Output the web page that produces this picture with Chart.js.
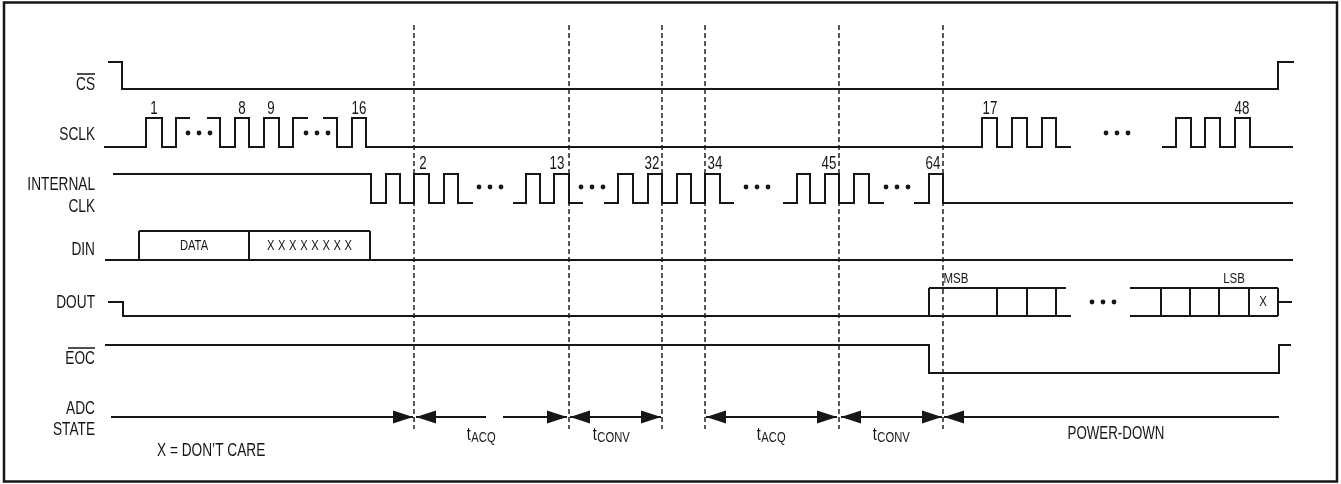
<!DOCTYPE html>
<html>
<head>
<meta charset="utf-8">
<script src="https://cdn.jsdelivr.net/npm/chart.js@4/dist/chart.umd.min.js"></script>
<style>
  html, body { margin: 0; padding: 0; background: #fff; }
  canvas { display: block; }
</style>
</head>
<body>
<canvas id="timing" width="1341" height="484"></canvas>
<script>
// Waveforms as [time, level] steps. level 1 = high, 0 = low, 0.5 = mid. null = "..." break
const csWave = [[108, 1], [122, 0], [1278, 1], [1294, 1]];
const sclkWave = [[104, 0], [146, 1], [162, 0], [176, 1], [190, 1], null,
  [207, 1], [220, 0], [235, 1], [249, 0], [264, 1], [279, 0], [293, 1], [308, 1], null,
  [323, 1], [337, 0], [352, 1], [366, 0], [982, 1], [997, 0], [1012, 1], [1027, 0], [1042, 1], [1056, 0], [1071, 0], null,
  [1162, 0], [1176, 1], [1191, 0], [1205, 1], [1220, 0], [1235, 1], [1250, 0], [1293, 0]];
const intClkWave = [[113, 1], [371, 0], [386, 1], [400, 0], [414, 1], [429, 0], [444, 1], [458, 0], [473, 0], null,
  [513, 0], [526, 1], [540, 0], [554, 1], [569, 0], [583, 0], null,
  [604, 0], [618, 1], [633, 0], [648, 1], [662, 0], [677, 1], [691, 0], [705, 1], [720, 0], [734, 0], null,
  [783, 0], [797, 1], [810, 0], [825, 1], [839, 0], [854, 1], [869, 0], [884, 0], null,
  [914, 0], [929, 1], [943, 0], [1293, 0]];
const doutWave = [[108, 0.5], [123, 0], [1071, 0]];
const eocWave = [[105, 1], [929, 0], [1279, 1], [1291, 1]];

// DIN bus: low line span and cell edges with their contents
const dinSpan = [105, 1293];
const dinCells = [139, 249, 370];
const dinText = ['DATA', 'XXXXXXXX'];

// DOUT bus: first group (open on the right), second group (open on the left)
const doutCells1 = [929, 997, 1027, 1056];
const doutOpen1 = [1066, 1071];           // top end, bottom end
const doutCells2 = [1130, 1161, 1190, 1219, 1249, 1278];
const doutTail = 1292;
const doutText = [['MSB', 956], ['LSB', 1234], ['X', 1263]];

// clock numbers [text, time]
const sclkNumbers = [['1', 154], ['8', 242], ['9', 271], ['16', 359], ['17', 990], ['48', 1242]];
const intClkNumbers = [['2', 423], ['13', 557], ['32', 652], ['34', 715], ['45', 829], ['64', 933]];

// centres of the "• • •" groups
const sclkDots = [199, 317, 1117];
const intClkDots = [490, 592, 757, 897];
const doutDots = [1103];

// dashed event markers
const eventTimes = [414, 569, 662, 705, 839, 943];

// ADC state phases
const adcPhases = [
  { from: 111, to: 413, heads: [false, true], t: '', sub: '', at: 0 },
  { from: 416, to: 567, heads: [true, true], t: 't', sub: 'ACQ', at: 481, gap: [486, 503] },
  { from: 570, to: 661, heads: [true, true], t: 't', sub: 'CONV', at: 611 },
  { from: 706, to: 837, heads: [true, true], t: 't', sub: 'ACQ', at: 771 },
  { from: 841, to: 942, heads: [true, true], t: 't', sub: 'CONV', at: 891 },
  { from: 944, to: 1279, heads: [true, false], t: 'POWER-DOWN', sub: '', at: 1116 }
];

// layout (pixel rows on the y scale)
const rows = {
  cs: { high: 62, low: 89 },
  sclk: { high: 118, low: 147 },
  intclk: { high: 174, low: 203 },
  din: { high: 231, low: 260 },
  dout: { high: 288, low: 316 },
  eoc: { high: 345, low: 373 },
  adc: 417
};
const INK = '#161616';
const FONT = '"Liberation Sans", Arial, sans-serif';

function levelY(row, lvl) {
  return row.low - lvl * (row.low - row.high);
}

function wavePoints(wave, row) {
  let pts = [];
  let lastX = 0;
  wave.forEach(p => {
    if (p === null) {
      pts.push({ x: lastX, y: null });
    } else {
      pts.push({ x: p[0], y: levelY(row, p[1]) });
      lastX = p[0];
    }
  });
  return pts;
}

// polyline helpers for bus boxes
function hline(pts, x1, x2, y) { pts.push({ x: x1, y: y }, { x: x2, y: y }, { x: x2, y: null }); }
function vline(pts, x, y1, y2) { pts.push({ x: x, y: y1 }, { x: x, y: y2 }, { x: x, y: null }); }

let dinPts = [];
hline(dinPts, dinSpan[0], dinSpan[1], rows.din.low);
hline(dinPts, dinCells[0], dinCells[dinCells.length - 1], rows.din.high);
dinCells.forEach(x => vline(dinPts, x, rows.din.low, rows.din.high));

let doutPts = [];
hline(doutPts, doutCells1[0], doutOpen1[0], rows.dout.high);
doutCells1.forEach(x => vline(doutPts, x, rows.dout.low, rows.dout.high));
hline(doutPts, doutCells2[0], doutCells2[doutCells2.length - 1], rows.dout.high);
hline(doutPts, doutCells2[0], doutCells2[doutCells2.length - 1], rows.dout.low);
doutCells2.slice(1).forEach(x => vline(doutPts, x, rows.dout.low, rows.dout.high));
hline(doutPts, doutCells2[doutCells2.length - 1], doutTail, levelY(rows.dout, 0.5));
// the bottom of the first group is the low line of doutWave

let markerPts = [];
eventTimes.forEach(t => vline(markerPts, t, 25, 429));

let adcPts = [];
adcPhases.forEach(ph => {
  if (ph.gap) {
    hline(adcPts, ph.from, ph.gap[0], rows.adc);
    hline(adcPts, ph.gap[1], ph.to, rows.adc);
  } else {
    hline(adcPts, ph.from, ph.to, rows.adc);
  }
});

function waveSet(wave, row) {
  return { data: wavePoints(wave, row), stepped: 'before' };
}

function drawText(ctx, s, x, y, size, align, sx) {
  ctx.save();
  ctx.font = size + 'px ' + FONT;
  ctx.textBaseline = 'middle';
  ctx.textAlign = align;
  ctx.translate(x, y);
  ctx.scale(sx || 0.76, 1);
  ctx.fillText(s, 0, 0);
  ctx.restore();
}

const decor = {
  id: 'decor',
  afterDatasetsDraw(chart) {
    const ctx = chart.ctx;
    const xs = chart.scales.x, ys = chart.scales.y;
    const px = v => xs.getPixelForValue(v);
    const py = v => ys.getPixelForValue(v);
    ctx.save();
    ctx.fillStyle = INK;
    ctx.strokeStyle = INK;

    // frame
    ctx.lineWidth = 2.5;
    ctx.strokeRect(4, 2.5, 1333, 479);

    // signal names
    drawText(ctx, 'CS', 95, 85, 18, 'right');
    drawText(ctx, 'SCLK', 95, 135, 18, 'right');
    drawText(ctx, 'INTERNAL', 95, 185, 18, 'right');
    drawText(ctx, 'CLK', 95, 207, 18, 'right');
    drawText(ctx, 'DIN', 95, 250, 18, 'right');
    drawText(ctx, 'DOUT', 95, 303, 18, 'right');
    drawText(ctx, 'EOC', 95, 359, 18, 'right');
    drawText(ctx, 'ADC', 95, 409, 18, 'right');
    drawText(ctx, 'STATE', 95, 430, 18, 'right');
    drawText(ctx, 'X = DON\u2019T CARE', 157, 451, 18, 'left');
    ctx.lineWidth = 1.5;
    ctx.beginPath();
    ctx.moveTo(77, 74); ctx.lineTo(95, 74);
    ctx.moveTo(68, 348); ctx.lineTo(95, 348);
    ctx.stroke();

    // clock numbers
    sclkNumbers.forEach(n => drawText(ctx, n[0], px(n[1]), py(rows.sclk.high) - 9, 18, 'center', 0.74));
    intClkNumbers.forEach(n => drawText(ctx, n[0], px(n[1]), py(rows.intclk.high) - 10, 18, 'center', 0.74));

    // dots
    const dots = (list, y) => list.forEach(c => {
      [-11, 0, 11].forEach(d => {
        ctx.beginPath();
        ctx.arc(px(c + d), y, 2.4, 0, Math.PI * 2);
        ctx.fill();
      });
    });
    dots(sclkDots, 133);
    dots(intClkDots, 187);
    dots(doutDots, 302);

    // bus texts
    for (let i = 0; i < dinText.length; i++) {
      const cx = px((dinCells[i] + dinCells[i + 1]) / 2);
      const cy = py((rows.din.high + rows.din.low) / 2) + 1;
      if (dinText[i].startsWith('X')) {
        const n = dinText[i].length;
        for (let k = 0; k < n; k++) drawText(ctx, 'X', cx + (k - (n - 1) / 2) * 11.1, cy, 14, 'center', 0.8);
      } else {
        drawText(ctx, dinText[i], cx, cy, 14, 'center', 0.8);
      }
    }
    doutText.forEach(d => {
      const y = d[0] === 'X' ? py(levelY(rows.dout, 0.5)) : py(rows.dout.high) - 9;
      drawText(ctx, d[0], px(d[1]), y, 14, 'center', 0.82);
    });

    // ADC arrows and phase labels
    const head = (tip, dir) => {
      const y = py(rows.adc);
      ctx.beginPath();
      ctx.moveTo(px(tip), y);
      ctx.lineTo(px(tip) - dir * 20, y - 6.5);
      ctx.lineTo(px(tip) - dir * 20, y + 6.5);
      ctx.closePath();
      ctx.fill();
    };
    adcPhases.forEach(ph => {
      if (ph.heads[0]) head(ph.from, -1);
      if (ph.heads[1]) head(ph.to, 1);
      if (!ph.t) return;
      const y = py(rows.adc) + 18;
      if (ph.sub) {
        ctx.font = '19px ' + FONT;
        const wt = ctx.measureText(ph.t).width * 0.76;
        ctx.font = '14px ' + FONT;
        const ws = ctx.measureText(ph.sub).width * 0.8;
        const x0 = px(ph.at) - (wt + ws) / 2;
        drawText(ctx, ph.t, x0, y, 19, 'left', 0.76);
        drawText(ctx, ph.sub, x0 + wt + 0.5, y + 3, 14, 'left', 0.8);
      } else {
        drawText(ctx, ph.t, px(ph.at), y - 1, 18, 'center', 0.74);
      }
    });
    ctx.restore();
  }
};

const lineStyle = { borderColor: INK, borderWidth: 2, pointRadius: 0, spanGaps: false, tension: 0, borderJoinStyle: 'miter' };

const datasets = [
  waveSet(csWave, rows.cs),
  waveSet(sclkWave, rows.sclk),
  waveSet(intClkWave, rows.intclk),
  waveSet(doutWave, rows.dout),
  waveSet(eocWave, rows.eoc),
  { data: dinPts },
  { data: doutPts },
  { data: adcPts },
  { data: markerPts, borderColor: '#222', borderWidth: 1.5, borderDash: [5, 3] }
].map(d => Object.assign({}, lineStyle, d));

new Chart(document.getElementById('timing'), {
  type: 'line',
  data: { datasets: datasets },
  options: {
    responsive: false,
    animation: false,
    devicePixelRatio: 1,
    layout: { padding: 0 },
    plugins: { legend: { display: false }, tooltip: { enabled: false } },
    scales: {
      x: { type: 'linear', min: 0, max: 1341, display: false },
      y: { type: 'linear', min: 0, max: 484, reverse: true, display: false }
    }
  },
  plugins: [decor]
});
</script>
</body>
</html>
